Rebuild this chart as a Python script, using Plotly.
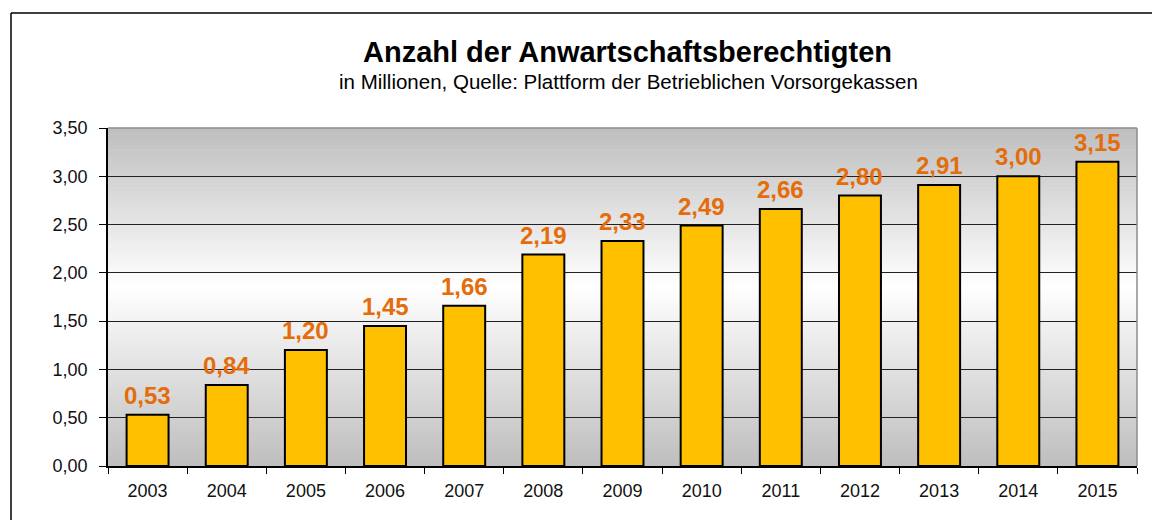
import plotly.graph_objects as go

years = ["2003", "2004", "2005", "2006", "2007", "2008", "2009",
         "2010", "2011", "2012", "2013", "2014", "2015"]
values = [0.53, 0.84, 1.20, 1.45, 1.66, 2.19, 2.33, 2.49, 2.66, 2.80, 2.91, 3.00, 3.15]
labels = [f"{v:.2f}".replace(".", ",") for v in values]
ytickvals = [0, 0.5, 1.0, 1.5, 2.0, 2.5, 3.0, 3.5]
yticktext = [f"{v:.2f}".replace(".", ",") for v in ytickvals]

title = "Anzahl der Anwartschaftsberechtigten"
subtitle = "in Millionen, Quelle: Plattform der Betrieblichen Vorsorgekassen"

FONT = "Liberation Sans, Arial, sans-serif"
OFF = 8  # default page body margin
W, H = 1160 - OFF, 520 - OFF
# plot area in page pixels: x 108..1137, y 128..466
L, R, T, B = 108 - OFF, 1160 - 1137, 128 - OFF, 520 - 466
pw, ph = W - L - R, H - T - B

def px_x(px):  # page pixel -> paper
    return (px - OFF - L) / pw

def px_y(py):
    return (H - B - (py - OFF)) / ph

fig = go.Figure()
fig.add_trace(go.Bar(
    x=years, y=values,
    marker=dict(color="#FFC000", line=dict(color="black", width=2)),
    width=0.53, hoverinfo="skip",
))

shapes = []
# gradient background: gray -> white -> gray
n = 80
mid = 0.47
for i in range(n):
    t = (i + 0.5) / n  # from top
    if t < mid:
        f = t / mid
    else:
        f = (1 - t) / (1 - mid)
    c = int(round(190 + (255 - 190) * f))
    y1 = 1 - i / n
    y0 = 1 - (i + 1) / n - 0.002
    shapes.append(dict(type="rect", xref="x domain", yref="y domain",
                       x0=0, x1=1, y0=max(y0, 0), y1=y1, layer="below",
                       line=dict(width=0), fillcolor=f"rgb({c},{c},{c})"))
# top and right plot edges (gray)
shapes.append(dict(type="line", xref="x domain", yref="y domain", x0=0, x1=1, y0=1, y1=1,
                   layer="above", line=dict(color="#8c8c8c", width=1.5)))
shapes.append(dict(type="line", xref="x domain", yref="y domain", x0=1, x1=1, y0=0, y1=1,
                   layer="above", line=dict(color="#8c8c8c", width=1.5)))
# outer chart frame (cropped)
shapes.append(dict(type="line", xref="paper", yref="paper", x0=px_x(11), x1=px_x(1165),
                   y0=px_y(13), y1=px_y(13), line=dict(color="black", width=1.5)))
shapes.append(dict(type="line", xref="paper", yref="paper", x0=px_x(11), x1=px_x(11),
                   y0=px_y(13), y1=px_y(525), line=dict(color="black", width=1.5)))

annotations = [
    dict(text=f"<b>{title}</b>", xref="paper", yref="paper", x=px_x(627), y=px_y(52),
         xanchor="center", yanchor="middle", showarrow=False,
         font=dict(family=FONT, size=29, color="black")),
    dict(text=subtitle, xref="paper", yref="paper", x=px_x(628), y=px_y(81),
         xanchor="center", yanchor="middle", showarrow=False,
         font=dict(family=FONT, size=20.5, color="black")),
]
for idx, (v, lab) in enumerate(zip(values, labels)):
    annotations.append(dict(
        text=f"<b>{lab}</b>", x=idx, y=v, xref="x", yref="y",
        xanchor="center", yanchor="bottom", yshift=4, showarrow=False,
        font=dict(family=FONT, size=24, color="#E46C0A"),
    ))

fig.update_layout(
    width=W, height=H,
    margin=dict(l=L, r=R, t=T, b=B, pad=0),
    paper_bgcolor="white", plot_bgcolor="rgba(0,0,0,0)",
    showlegend=False,
    shapes=shapes, annotations=annotations,
    font=dict(family=FONT, size=18, color="#111"),
)
fig.update_xaxes(
    type="category", categoryorder="array", categoryarray=years,
    range=[-0.5, len(years) - 0.5],
    tickson="boundaries", ticks="outside", ticklen=6,
    tickcolor="black", showline=True, linecolor="black", linewidth=1.5,
    showgrid=False, tickfont=dict(size=18, color="#111"), ticklabelstandoff=8,
)
fig.update_yaxes(
    range=[0, 3.5], tickmode="array", tickvals=ytickvals, ticktext=yticktext,
    ticks="outside", ticklen=7, tickcolor="black", showline=True,
    linecolor="black", linewidth=1.5, showgrid=True, gridcolor="#222",
    gridwidth=1, zeroline=False, ticklabelstandoff=8,
    tickfont=dict(size=18, color="#111"),
)

fig.write_html("out.html")
